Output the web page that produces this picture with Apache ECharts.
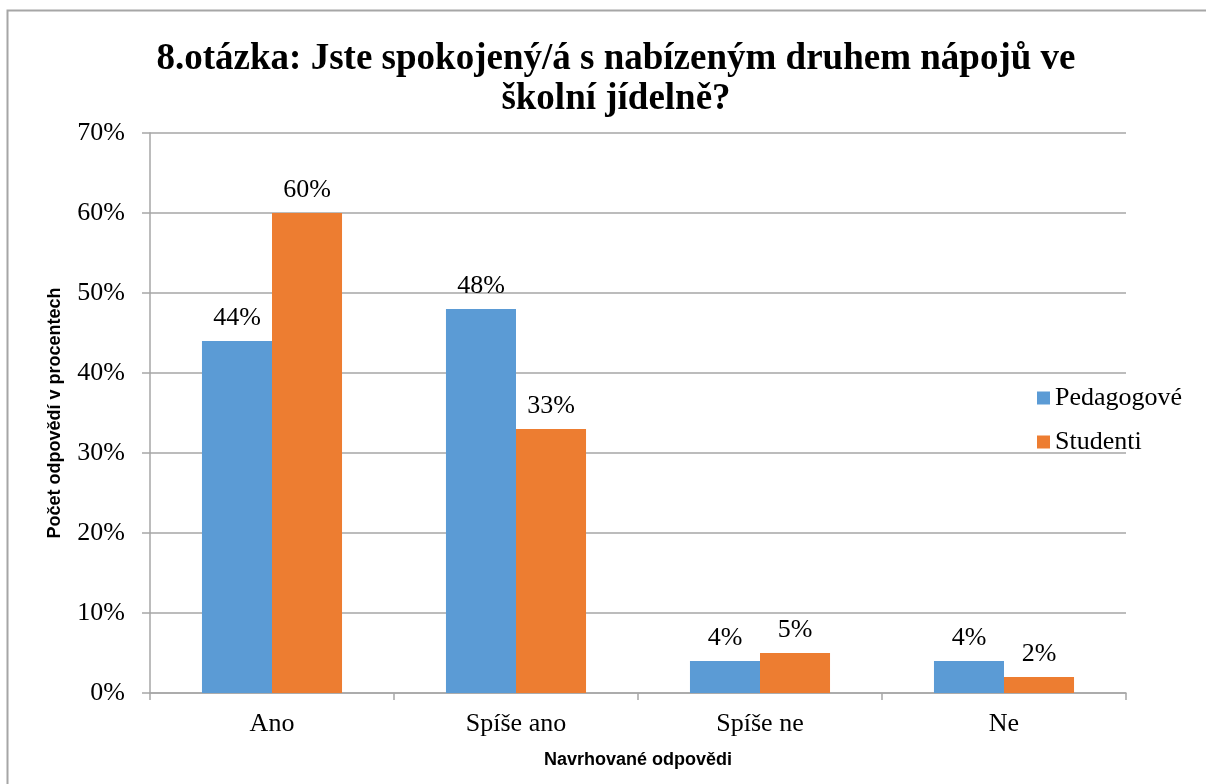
<!DOCTYPE html>
<html lang="cs">
<head>
<meta charset="UTF-8">
<title>8.otázka</title>
<script src="https://cdn.jsdelivr.net/npm/echarts@6/dist/echarts.min.js"></script>
<style>
    html, body { margin: 0; padding: 0; background: #fff; }
    #chart { width: 1206px; height: 784px; }
</style>
</head>
<body>
<div id="chart"></div>
<script>
const categories = ['Ano', 'Spíše ano', 'Spíše ne', 'Ne'];
const pedagogove = [44, 48, 4, 4];
const studenti = [60, 33, 5, 2];
const yTicks = [0, 10, 20, 30, 40, 50, 60, 70];

const serif = '"Liberation Serif", "Times New Roman", serif';
const sans = '"Liberation Sans", Arial, sans-serif';
const axisGrey = '#a6a6a6';

const chart = echarts.init(document.getElementById('chart'));

function barLabel() {
    return {
        show: true,
        position: 'top',
        distance: 10,
        formatter: '{c}%',
        fontFamily: serif,
        fontSize: 26,
        color: '#000'
    };
}

chart.setOption({
    animation: false,
    graphic: [{
        type: 'rect',
        shape: { x: 7.5, y: 10.5, width: 1250, height: 820 },
        style: { fill: 'none', stroke: '#a6a6a6', lineWidth: 2 },
        silent: true
    }],
    title: {
        text: '8.otázka: Jste spokojený/á s nabízeným druhem nápojů ve\nškolní jídelně?',
        left: 611,
        top: 34,
        textAlign: 'center',
        textStyle: {
            fontFamily: serif,
            fontWeight: 'bold',
            fontSize: 37,
            lineHeight: 40,
            color: '#000'
        }
    },
    legend: {
        orient: 'vertical',
        left: 1032,
        top: 380,
        itemWidth: 13,
        itemHeight: 13,
        itemGap: 18,
        icon: 'rect',
        textStyle: { fontFamily: serif, fontSize: 26, color: '#000' },
        data: ['Pedagogové', 'Studenti']
    },
    grid: { left: 150, right: 80, top: 133, bottom: 91 },
    xAxis: {
        type: 'category',
        data: categories,
        name: 'Navrhované odpovědi',
        nameLocation: 'middle',
        nameGap: 58,
        nameTextStyle: { fontFamily: sans, fontWeight: 'bold', fontSize: 18, color: '#000' },
        axisLine: { lineStyle: { color: axisGrey, width: 1.5 } },
        axisTick: { show: true, length: 7, lineStyle: { color: axisGrey, width: 1.5 } },
        axisLabel: { fontFamily: serif, fontSize: 26, color: '#000', margin: 18 }
    },
    yAxis: {
        type: 'value',
        min: 0,
        max: 70,
        interval: 10,
        name: 'Počet odpovědí v procentech',
        nameLocation: 'middle',
        nameGap: 86,
        nameTextStyle: { fontFamily: sans, fontWeight: 'bold', fontSize: 18, color: '#000' },
        axisLine: { show: true, lineStyle: { color: axisGrey, width: 1.5 } },
        axisTick: { show: true, length: 8, lineStyle: { color: axisGrey, width: 1.5 } },
        splitLine: { lineStyle: { color: axisGrey, width: 1.5 } },
        axisLabel: {
            fontFamily: serif, fontSize: 26, color: '#000', margin: 25,
            formatter: v => yTicks.includes(v) ? v + '%' : ''
        }
    },
    series: [
        {
            name: 'Pedagogové',
            type: 'bar',
            data: pedagogove,
            barGap: '0%',
            barCategoryGap: '42.6%',
            itemStyle: { color: '#5b9bd5' },
            label: barLabel()
        },
        {
            name: 'Studenti',
            type: 'bar',
            data: studenti,
            barGap: '0%',
            barCategoryGap: '42.6%',
            itemStyle: { color: '#ed7d31' },
            label: barLabel()
        }
    ]
});
</script>
</body>
</html>
